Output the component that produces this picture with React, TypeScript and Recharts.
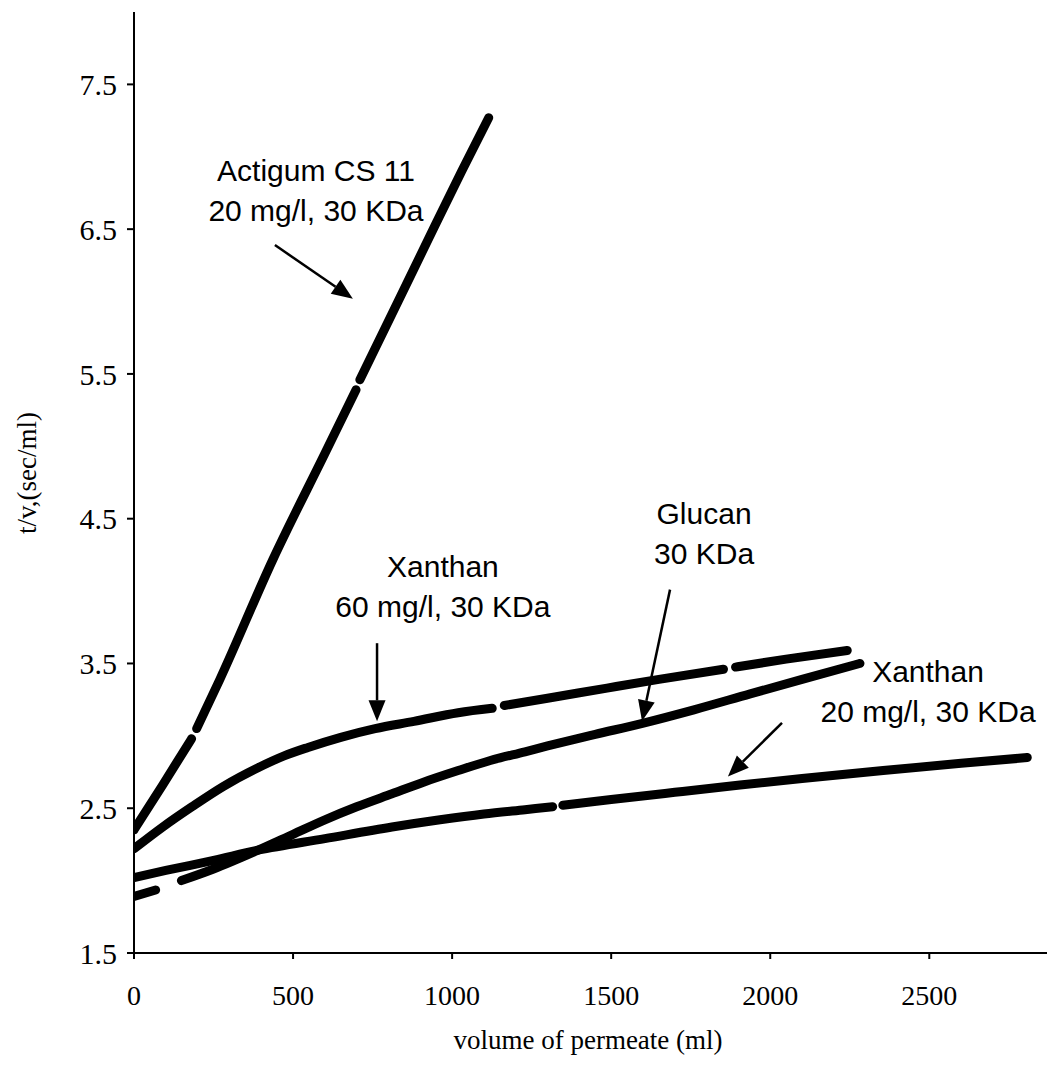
import React from 'react';
import { LineChart, Line, XAxis, YAxis, ReferenceLine, ReferenceDot } from 'recharts';

// axis ticks
const xTicks = [0, 500, 1000, 1500, 2000, 2500];
const yTicks = [1.5, 2.5, 3.5, 4.5, 5.5, 6.5, 7.5];

// Actigum CS 11, 20 mg/l, 30 KDa (null = break in the trace)
const actigumX = [0, 90, 181, 189, 197, 270, 437, 600, 698, 704, 710, 830, 945, 1030, 1115];
const actigumY = [2.35, 2.66, 2.98, null, 3.05, 3.39, 4.22, 4.95, 5.39, null, 5.46, 6.0, 6.52, 6.9, 7.27];

// Xanthan 60 mg/l, 30 KDa
const xan60X = [0, 90, 182, 280, 390, 470, 547, 650, 758, 880, 1019, 1126, 1145, 1164, 1300, 1487, 1650, 1853, 1872, 1891, 2050, 2242];
const xan60Y = [2.22, 2.37, 2.51, 2.65, 2.78, 2.86, 2.92, 2.99, 3.05, 3.1, 3.16, 3.19, null, 3.21, 3.26, 3.33, 3.39, 3.46, null, 3.475, 3.53, 3.59];

// Glucan 30 KDa
const glucanX = [0, 68, 108, 149, 250, 390, 500, 600, 700, 811, 910, 1019, 1120, 1229, 1300, 1450, 1595, 1760, 1937, 2100, 2282];
const glucanY = [1.89, 1.935, null, 2.0, 2.08, 2.21, 2.32, 2.42, 2.51, 2.6, 2.68, 2.76, 2.83, 2.89, 2.93, 3.01, 3.085, 3.18, 3.29, 3.39, 3.5];

// Xanthan 20 mg/l, 30 KDa
const xan20X = [0, 100, 250, 390, 600, 811, 962, 1100, 1229, 1316, 1332, 1348, 1500, 1700, 1905, 2100, 2355, 2600, 2808];
const xan20Y = [2.02, 2.07, 2.14, 2.21, 2.29, 2.37, 2.42, 2.46, 2.49, 2.51, null, 2.52, 2.56, 2.61, 2.66, 2.705, 2.76, 2.81, 2.85];

// annotation texts (anchored in data units)
const notes = [
  { lines: ['Actigum CS 11', '20 mg/l, 30 KDa'], x: 572, y: 6.83 },
  { lines: ['Xanthan', '60 mg/l, 30 KDa'], x: 971, y: 4.1 },
  { lines: ['Glucan', '30 KDa'], x: 1792, y: 4.46 },
  { lines: ['Xanthan', '20 mg/l, 30 KDa'], x: 2496, y: 3.37 },
];

const arrows = [
  { x1: 443, y1: 6.39, x2: 688, y2: 6.02 },
  { x1: 764, y1: 3.64, x2: 764, y2: 3.1 },
  { x1: 1685, y1: 4.01, x2: 1597, y2: 3.1 },
  { x1: 2037, y1: 3.09, x2: 1867, y2: 2.72 },
];

const zip = (xs: number[], ys: (number | null)[]) => xs.map((x, i) => ({ x, y: ys[i] }));

const series = [
  { name: 'Actigum CS 11', data: zip(actigumX, actigumY) },
  { name: 'Xanthan 60 mg/l', data: zip(xan60X, xan60Y) },
  { name: 'Glucan', data: zip(glucanX, glucanY) },
  { name: 'Xanthan 20 mg/l', data: zip(xan20X, xan20Y) },
];

const ArrowShape = (props: any) => {
  const { x1, y1, x2, y2 } = props;
  const ang = Math.atan2(y2 - y1, x2 - x1);
  const len = 21;
  const half = 8.5;
  const bx = x2 - len * Math.cos(ang);
  const by = y2 - len * Math.sin(ang);
  const px = -Math.sin(ang) * half;
  const py = Math.cos(ang) * half;
  return (
    <g>
      <line x1={x1} y1={y1} x2={bx} y2={by} stroke="#000" strokeWidth={2.5} />
      <polygon points={`${x2},${y2} ${bx + px},${by + py} ${bx - px},${by - py}`} fill="#000" />
    </g>
  );
};

const NoteText = (props: any) => {
  const { cx, cy, lines } = props;
  return (
    <text x={cx} y={cy} textAnchor="middle" fontFamily="'Liberation Sans', Arial, sans-serif" fontSize={30} fill="#000">
      {lines.map((t: string, i: number) => (
        <tspan key={i} x={cx} dy={i === 0 ? 0 : 40}>{t}</tspan>
      ))}
    </text>
  );
};

const serif = "'Liberation Serif', 'Times New Roman', serif";

const App: React.FC = () => {
  return (
    <div style={{ position: 'absolute', left: 0, top: 0, width: 1047, height: 1066, background: '#fff' }}>
      <LineChart width={1047} height={1066} margin={{ top: 12, right: 0, bottom: 0, left: 0 }}>
        <XAxis
          type="number"
          dataKey="x"
          domain={[0, 2870]}
          ticks={xTicks}
          allowDataOverflow
          height={113}
          axisLine={{ stroke: '#000', strokeWidth: 2 }}
          tickLine={{ stroke: '#000', strokeWidth: 2 }}
          tickSize={6}
          tickMargin={26}
          tick={{ fill: '#000', fontSize: 28, fontFamily: serif }}
          label={() => (
            <text x={588} y={1049} textAnchor="middle" fontFamily={serif} fontSize={27} fill="#000">
              volume of permeate (ml)
            </text>
          )}
        />
        <YAxis
          type="number"
          dataKey="y"
          domain={[1.5, 8]}
          ticks={yTicks}
          allowDataOverflow
          width={134}
          axisLine={{ stroke: '#000', strokeWidth: 2 }}
          tickLine={{ stroke: '#000', strokeWidth: 2 }}
          tickSize={7}
          tickMargin={10}
          tick={{ fill: '#000', fontSize: 30, fontFamily: serif }}
          tickFormatter={(v: number) => v.toFixed(1)}
          label={() => (
            <text
              x={27}
              y={473}
              dy="0.35em"
              textAnchor="middle"
              transform="rotate(-90, 27, 473)"
              fontFamily={serif}
              fontSize={27}
              fill="#000"
            >
              t/v,(sec/ml)
            </text>
          )}
        />
        {series.map(s => (
          <Line
            key={s.name}
            name={s.name}
            data={s.data}
            dataKey="y"
            type="monotone"
            stroke="#000"
            strokeWidth={9}
            strokeLinecap="round"
            strokeLinejoin="round"
            dot={false}
            activeDot={false}
            connectNulls={false}
            isAnimationActive={false}
          />
        ))}
        {arrows.map((a, i) => (
          <ReferenceLine
            key={`arrow-${i}`}
            segment={[{ x: a.x1, y: a.y1 }, { x: a.x2, y: a.y2 }]}
            shape={ArrowShape}
          />
        ))}
        {notes.map((n, i) => (
          <ReferenceDot
            key={`note-${i}`}
            x={n.x}
            y={n.y}
            r={0}
            shape={(p: any) => <NoteText {...p} lines={n.lines} />}
          />
        ))}
      </LineChart>
    </div>
  );
};

export default App;
